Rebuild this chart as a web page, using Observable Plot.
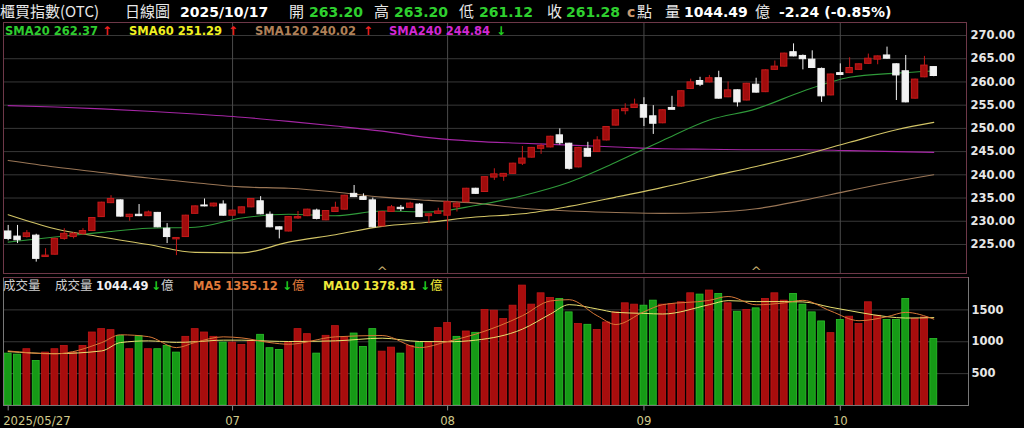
<!DOCTYPE html>
<html><head><meta charset="utf-8">
<script src="https://cdn.jsdelivr.net/npm/d3@7"></script>
<script src="https://cdn.jsdelivr.net/npm/@observablehq/plot@0.6"></script>
<style>
body{margin:0;background:#000;width:1024px;height:428px;overflow:hidden;position:relative;font-family:"DejaVu Sans",sans-serif}
.t{position:absolute;white-space:nowrap;line-height:16px}
#upper{position:absolute;left:0;top:0}
#lower{position:absolute;left:0;top:275px}
</style></head><body>
<div id="upper"></div><div id="lower"></div><div id="hdr"></div>
<script>
const dates = [
"2025-05-27","2025-05-28","2025-05-29",
"2025-06-02","2025-06-03","2025-06-04","2025-06-05","2025-06-06","2025-06-09","2025-06-10","2025-06-11","2025-06-12","2025-06-13",
"2025-06-16","2025-06-17","2025-06-18","2025-06-19","2025-06-20","2025-06-23","2025-06-24","2025-06-25","2025-06-26","2025-06-27","2025-06-30",
"2025-07-01","2025-07-02","2025-07-03","2025-07-04","2025-07-07","2025-07-08","2025-07-09","2025-07-10","2025-07-11","2025-07-14","2025-07-15",
"2025-07-16","2025-07-17","2025-07-18","2025-07-21","2025-07-22","2025-07-23","2025-07-24","2025-07-25","2025-07-28","2025-07-29","2025-07-30","2025-07-31",
"2025-08-01","2025-08-04","2025-08-05","2025-08-06","2025-08-07","2025-08-08","2025-08-11","2025-08-12","2025-08-13","2025-08-14","2025-08-15",
"2025-08-18","2025-08-19","2025-08-20","2025-08-21","2025-08-22","2025-08-25","2025-08-26","2025-08-27","2025-08-28","2025-08-29",
"2025-09-01","2025-09-02","2025-09-03","2025-09-04","2025-09-05","2025-09-08","2025-09-09","2025-09-10","2025-09-11","2025-09-12","2025-09-15",
"2025-09-16","2025-09-17","2025-09-18","2025-09-19","2025-09-22","2025-09-23","2025-09-24","2025-09-25","2025-09-26","2025-09-30",
"2025-10-01","2025-10-02","2025-10-03","2025-10-07","2025-10-08","2025-10-09","2025-10-13","2025-10-14","2025-10-15","2025-10-16","2025-10-17"];

const open  = [227.8,226.7,226.6,226.9,222.3,222.8,226.2,226.6,227.2,227.9,230.9,233.9,234.5,230.9,231.4,231.1,231.8,228.4,226.1,226.6,
231.6,233.4,233.2,233.6,231.2,231.7,233.0,234.3,231.4,228.7,227.8,230.6,231.1,232.3,230.2,232.0,232.5,235.9,235.2,234.5,
228.9,232.0,232.9,232.9,233.6,231.1,231.6,231.2,233.0,234.1,237.0,236.3,239.4,239.6,240.2,242.4,243.7,245.6,245.9,248.5,
246.7,241.6,245.6,244.9,247.4,250.6,253.7,254.4,255.0,252.6,251.1,254.4,254.7,258.5,260.2,259.9,260.8,256.7,258.2,256.0,
259.4,257.8,262.6,263.3,266.4,265.6,264.8,262.8,257.1,261.9,261.9,262.6,263.9,264.8,265.7,263.8,262.3,256.4,261.0,263.2];
const high  = [229.1,229.1,228.0,227.2,224.1,226.4,228.4,227.6,228.4,230.8,234.1,235.5,234.6,231.5,233.6,232.2,231.9,229.5,226.5,231.3,
233.3,234.8,233.9,234.4,232.4,233.1,234.9,235.3,232.0,228.8,231.0,232.1,232.6,232.6,232.3,234.1,235.6,237.7,235.9,235.0,
232.1,233.4,233.4,234.1,233.8,231.6,232.8,234.3,234.2,237.1,237.1,239.6,241.3,240.3,242.5,246.1,245.9,246.6,248.3,249.9,
246.8,245.9,247.0,248.2,250.4,254.0,255.3,256.3,256.6,254.9,254.0,256.9,258.1,260.6,261.0,261.4,262.3,260.0,258.3,259.7,
260.8,262.6,264.5,266.2,268.2,265.8,266.7,263.0,261.7,263.9,265.2,263.9,266.0,265.6,267.5,263.9,265.7,260.6,265.5,263.2];
const low   = [225.8,225.2,226.4,221.2,222.2,222.7,225.9,226.2,227.0,227.8,230.8,233.8,230.9,230.0,231.0,231.0,228.6,225.2,222.6,226.5,
231.5,233.1,233.0,231.1,231.1,231.6,232.9,231.4,228.6,226.2,227.7,230.4,231.0,230.3,230.1,231.9,232.4,235.1,234.5,228.6,
228.8,231.9,232.1,232.8,230.8,229.5,231.5,228.0,232.0,234.0,235.8,236.2,238.8,238.6,240.1,242.0,243.6,244.4,245.8,246.4,
241.0,241.5,243.8,244.8,247.3,250.5,252.9,254.3,250.4,248.7,251.0,254.0,254.6,258.4,259.0,259.8,256.3,256.6,254.6,255.9,
257.6,257.7,262.5,263.2,265.4,262.6,262.9,255.6,257.0,261.4,261.8,262.5,263.8,263.7,264.9,256.0,255.5,256.3,260.9,261.12];
const close = [226.2,225.9,227.4,221.9,222.6,226.2,227.3,227.3,227.9,230.7,234.0,234.8,231.0,231.4,231.1,231.9,228.7,226.6,226.4,231.2,
233.2,233.2,233.8,231.2,232.3,233.0,234.8,231.5,228.7,228.2,230.9,230.9,232.5,230.5,232.2,232.9,235.5,235.2,234.6,228.7,
232.0,233.0,232.6,233.8,230.9,231.5,232.1,234.1,233.8,237.0,235.9,239.5,240.1,240.2,242.4,243.5,245.8,246.2,248.2,246.8,
241.3,245.8,243.9,247.4,250.3,253.9,254.2,255.1,252.3,251.0,253.9,254.0,258.0,259.9,259.4,260.8,256.4,258.2,255.6,259.6,
257.7,262.5,263.3,266.1,265.5,264.9,263.0,256.9,261.6,261.5,263.0,263.8,265.0,265.5,265.0,261.4,255.6,260.5,263.52,261.28];

const volume = [814,798,883,699,830,883,935,830,935,1145,1198,1182,1093,883,1088,883,883,935,830,1077,
1198,1145,1077,987,987,951,1014,1109,899,872,987,1198,1119,814,1093,1245,1066,1129,919,1198,
845,908,814,935,987,987,1214,1293,1077,1161,1140,1498,1487,1356,1566,1881,1582,1760,1687,1672,
1461,1277,1266,1183,1303,1461,1603,1582,1566,1645,1582,1593,1619,1760,1740,1803,1750,1603,1471,1498,
1524,1672,1760,1645,1750,1582,1461,1319,1135,1340,1393,1277,1619,1408,1340,1340,1672,1356,1382,1044.49];
// 1 = up day (red), 0 = down day (green)
const volUp = [0,0,1,0,1,1,1,1,1,1,1,1,0,1,0,1,0,0,0,1,
1,1,1,0,1,1,1,0,0,0,1,1,1,0,1,1,1,0,0,0,
1,1,0,1,0,1,1,1,0,1,0,1,1,1,1,1,1,1,1,0,
0,1,0,1,1,1,1,1,0,0,1,1,1,1,0,1,0,1,0,1,
0,1,1,1,0,0,0,0,1,0,1,1,1,1,0,0,0,1,1,0];

const maIdx  = [0,5,10,15,20,25,30,35,40,45,50,55,60,65,70,75,80,85,90,95,99];
const sma20  = [225.5,226.6,227.6,228.5,228.7,230.7,231.5,231.2,232.2,232.0,233.4,235.5,238.4,242.7,247.4,251.8,254.2,258.0,261.0,261.9,262.37];
const sma60  = [231.4,228.4,226.6,225.0,223.3,223.2,225.5,227.1,228.9,229.8,230.9,231.6,233.2,235.2,237.3,239.6,241.8,244.2,247.0,249.7,251.29];
const sma120 = [243.1,241.7,240.5,239.3,238.3,237.4,237.1,236.3,235.2,234.5,233.9,232.8,232.2,231.9,231.7,231.9,232.7,234.5,236.6,238.6,240.02];
const sma240 = [254.9,254.6,254.2,253.7,253.1,252.4,251.5,250.5,249.4,248.0,247.2,246.8,246.4,246.0,245.6,245.5,245.4,245.4,245.2,245.0,244.84];

const volMaIdx = [0,5,10,12,15,18,20,23,25,28,30,35,40,44,47,50,55,58,60,63,65,68,70,75,77,80,83,85,88,91,94,96,99];
const volMa5  = [856,810,987,1109,1080,908,990,1077,1060,987,961,1077,1098,908,1004,1119,1408,1640,1660,1408,1270,1470,1582,1650,1710,1580,1610,1650,1480,1330,1393,1461,1355.12];
const volMa10 = [846,814,856,987,1014,990,1000,1025,1025,1010,1004,1014,1056,1004,1000,1025,1198,1435,1582,1514,1461,1445,1435,1582,1645,1630,1630,1625,1540,1461,1393,1372,1378.81];

const priceTicks = [225,230,235,240,245,250,255,260,265,270];
const volTicks = [500,1000,1500];
const tickDates = ["2025-05-27","2025-07-01","2025-08-01","2025-09-01","2025-10-01"];
const tickLabels = ["2025/05/27","07","08","09","10"];
const markerIdx = [40,80];

// ---- derived tables ----
const candles = dates.map((d,i)=>({i, d, o:open[i], h:high[i], l:low[i], c:close[i], up: close[i] >= open[i]}));
const vols = dates.map((d,i)=>({i, v:volume[i], up: volUp[i]===1}));
const tickIdx = tickDates.map(d=>dates.indexOf(d));
const ticks = tickIdx.map((i,k)=>({i, label:tickLabels[k], first:k===0}));
const gridIdx = tickIdx.slice(1);
const ser = (idx, vals) => idx.map((i,k)=>({i, v: vals[k]}));

const RED="#c41a1a", REDF="#a00c0c", WHITE="#f2f2f2", GRID="#383838", VGRID="#4a4a4a";
const CURVE="monotone-x";

const upper = Plot.plot({
  width:1024, height:275, marginTop:22, marginBottom:2, marginLeft:3, marginRight:58,
  style:{background:"transparent", overflow:"visible"},
  x:{type:"linear", domain:[-0.5,102.5], axis:null},
  y:{type:"linear", domain:[218.75,272.8], axis:null},
  marks:[
    Plot.ruleY(priceTicks,{stroke:GRID}),
    Plot.ruleX(gridIdx,{stroke:VGRID}),
    Plot.text(priceTicks,{x:102.5, y:d=>d, text:d=>d.toFixed(2), textAnchor:"start", dx:4, fill:"#e6e6e6", fontWeight:"bold", fontSize:11.5, fontFamily:"DejaVu Sans"}),
    Plot.line(ser(maIdx,sma240),{x:"i",y:"v",stroke:"#a526a5",strokeWidth:1.1,curve:CURVE}),
    Plot.line(ser(maIdx,sma120),{x:"i",y:"v",stroke:"#9a7656",strokeWidth:1.1,curve:CURVE}),
    Plot.line(ser(maIdx,sma60),{x:"i",y:"v",stroke:"#d2c466",strokeWidth:1.1,curve:CURVE}),
    Plot.line(ser(maIdx,sma20),{x:"i",y:"v",stroke:"#2f9a3a",strokeWidth:1.1,curve:CURVE}),
    Plot.ruleX(candles,{x:"i", y1:"l", y2:"h", stroke:d=>d.up?RED:WHITE, strokeWidth:1}),
    Plot.rect(candles,{x1:d=>d.i-0.34, x2:d=>d.i+0.34, y1:"o", y2:"c", fill:d=>d.up?REDF:WHITE, stroke:d=>d.up?RED:WHITE, strokeWidth:1}),
    Plot.text(markerIdx,{x:d=>d, frameAnchor:"bottom", text:()=>"^", dy:2, fill:"#c8b070", fontSize:13, fontFamily:"DejaVu Sans"}),
    Plot.frame({stroke:"#6e3848"})
  ]
});
document.getElementById("upper").appendChild(upper);

const lower = Plot.plot({
  width:1024, height:153, marginTop:2, marginBottom:23, marginLeft:3, marginRight:56,
  style:{background:"transparent", overflow:"visible"},
  x:{type:"linear", domain:[-0.5,102.71], axis:null},
  y:{type:"linear", domain:[0,2008], axis:null},
  marks:[
    Plot.ruleY(volTicks,{stroke:GRID}),
    Plot.ruleX(gridIdx,{stroke:VGRID}),
    Plot.text(volTicks,{x:102.71, y:d=>d, text:d=>String(d), textAnchor:"start", dx:3, fill:"#e6e6e6", fontWeight:"bold", fontSize:11.5, fontFamily:"DejaVu Sans"}),
    Plot.rect(vols,{x1:d=>d.i-0.37, x2:d=>d.i+0.37, y1:0, y2:"v", fill:d=>d.up?"#a80d0d":"#169a16", stroke:d=>d.up?"#c01818":"#2cc22c", strokeWidth:0.8}),
    Plot.line(ser(volMaIdx,volMa10),{x:"i",y:"v",stroke:"#e8e070",strokeWidth:1,curve:CURVE}),
    Plot.line(ser(volMaIdx,volMa5),{x:"i",y:"v",stroke:"#d87838",strokeWidth:1,curve:CURVE}),
    Plot.ruleX(tickIdx,{x:d=>d, y1:-8, y2:-85, stroke:"#888"}),
    Plot.text(ticks.filter(t=>!t.first),{x:"i", text:"label", frameAnchor:"bottom", lineAnchor:"middle", dy:15, textAnchor:"middle", fill:"#cfc88a", fontSize:13, fontFamily:"DejaVu Sans Condensed"}),
    Plot.text(ticks.filter(t=>t.first),{x:"i", text:"label", frameAnchor:"bottom", lineAnchor:"middle", dy:15, dx:-5, textAnchor:"start", fill:"#cfc88a", fontSize:13, fontFamily:"DejaVu Sans Condensed"}),
    Plot.frame({stroke:"#777"}),
    Plot.ruleY([2008],{stroke:"#6e3848"})
  ]
});
document.getElementById("lower").appendChild(lower);

// ---- header & legends ----
const hdr = document.getElementById("hdr");
function put(text, left, top, style){
  const s=document.createElement("span"); s.className="t"; s.textContent=text;
  s.style.left=left+"px"; s.style.top=top+"px";
  Object.assign(s.style, style||{}); hdr.appendChild(s); return s;
}
const CJK = {fontFamily:'"Noto Sans CJK TC","Noto Sans CJK SC",sans-serif', fontSize:"15px", color:"#e8e8e8"};
const NUM = {fontFamily:'"DejaVu Sans"', fontWeight:"bold", fontSize:"14px"};
const G="#2fd02f";
put("櫃買指數(OTC)",0,3,CJK);
put("日線圖",125,3,CJK);
put("2025/10/17",180,4,{...NUM,color:"#fff"});
put("開",289,3,CJK); put("263.20",309,4,{...NUM,color:G});
put("高",374,3,CJK); put("263.20",394,4,{...NUM,color:G});
put("低",459,3,CJK); put("261.12",479,4,{...NUM,color:G});
put("收",547,3,CJK); put("261.28",566,4,{...NUM,color:G});
put("c",627,4,{...NUM,color:"#c89a70"}); put("點",637,3,CJK);
put("量",665,3,CJK); put("1044.49",684,4,{...NUM,color:"#fff"}); put("億",755,3,CJK);
put("-2.24 (-0.85%)",779,4,{...NUM,color:"#fff"});

const LEG = {fontFamily:'"DejaVu Sans"', fontWeight:"bold", fontSize:"11.5px"};
const ARW = {fontFamily:'"DejaVu Sans"', fontWeight:"bold", fontSize:"12px"};
put("SMA20 262.37",5,23,{...LEG,color:"#2fcc2f"}); put("↑",102,23,{...ARW,color:"#f02020"});
put("SMA60 251.29",129,23,{...LEG,color:"#f0f020"}); put("↑",228,23,{...ARW,color:"#f02020"});
put("SMA120 240.02",255,23,{...LEG,color:"#b08058"}); put("↑",363,23,{...ARW,color:"#f02020"});
put("SMA240 244.84",389,23,{...LEG,color:"#d228d2"}); put("↓",496,23,{...ARW,color:"#20d020"});

const CJK2 = {fontFamily:'"Noto Sans CJK TC",sans-serif', fontSize:"12.5px", color:"#cfcfcf"};
put("成交量",3,277,CJK2);
put("成交量",55,277,CJK2);
put("1044.49",96,278,{...LEG,color:"#f0f0f0"}); put("↓",151,278,{...ARW,color:"#20d020"}); put("億",161,277,CJK2);
put("MA5 1355.12",193,278,{...LEG,color:"#e07a3a"}); put("↓",282,278,{...ARW,color:"#20d020"}); put("億",292,277,{...CJK2,color:"#e07a3a"});
put("MA10 1378.81",323,278,{...LEG,color:"#f0e83a"}); put("↓",420,278,{...ARW,color:"#20d020"}); put("億",430,277,{...CJK2,color:"#f0e83a"});
</script></body></html>
